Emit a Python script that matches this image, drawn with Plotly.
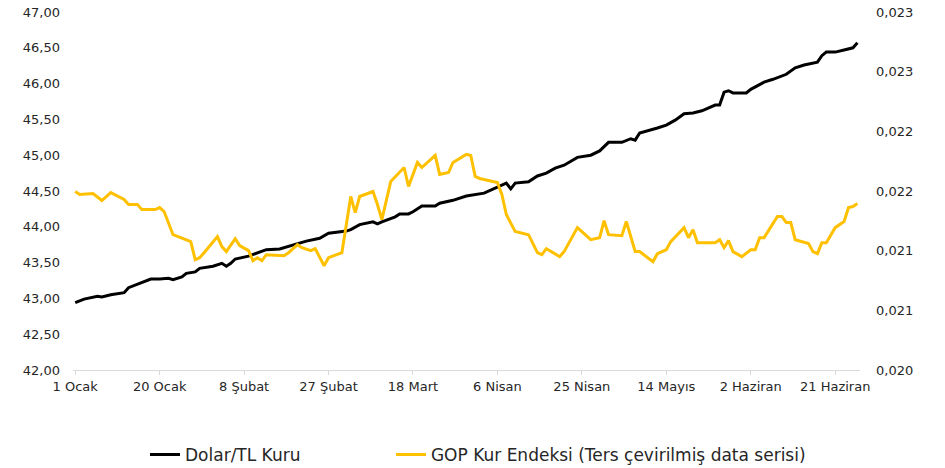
import plotly.graph_objects as go

# ---- Data ----
usd_dates = [
    "2025-01-01", "2025-01-03", "2025-01-06", "2025-01-07", "2025-01-09", "2025-01-12",
    "2025-01-13", "2025-01-16", "2025-01-18", "2025-01-20", "2025-01-22", "2025-01-23",
    "2025-01-25", "2025-01-26", "2025-01-28", "2025-01-29", "2025-02-01", "2025-02-03",
    "2025-02-04", "2025-02-05", "2025-02-06", "2025-02-09", "2025-02-11", "2025-02-13",
    "2025-02-16", "2025-02-19", "2025-02-22", "2025-02-25", "2025-02-27", "2025-03-03",
    "2025-03-04", "2025-03-06", "2025-03-08", "2025-03-09", "2025-03-10", "2025-03-11",
    "2025-03-14", "2025-03-15", "2025-03-17", "2025-03-18", "2025-03-20", "2025-03-23",
    "2025-03-24", "2025-03-27", "2025-03-30", "2025-03-31", "2025-04-02", "2025-04-03",
    "2025-04-08", "2025-04-09", "2025-04-10", "2025-04-13", "2025-04-15", "2025-04-17",
    "2025-04-19", "2025-04-21", "2025-04-24", "2025-04-27", "2025-04-29", "2025-05-01",
    "2025-05-04", "2025-05-06", "2025-05-07", "2025-05-08", "2025-05-12", "2025-05-14",
    "2025-05-16", "2025-05-18", "2025-05-20", "2025-05-22", "2025-05-25", "2025-05-26",
    "2025-05-27", "2025-05-28", "2025-05-29", "2025-06-01", "2025-06-02", "2025-06-05",
    "2025-06-07", "2025-06-10", "2025-06-12", "2025-06-14", "2025-06-17", "2025-06-18",
    "2025-06-19", "2025-06-21", "2025-06-23", "2025-06-25", "2025-06-26",
]
usd_values = [
    42.94, 42.99, 43.03, 43.02, 43.05, 43.08,
    43.15, 43.22, 43.27, 43.27, 43.28, 43.26,
    43.30, 43.35, 43.37, 43.42, 43.45, 43.49,
    43.45, 43.49, 43.55, 43.59, 43.63, 43.68,
    43.69, 43.75, 43.80, 43.84, 43.91, 43.94,
    43.96, 44.03, 44.05, 44.07, 44.04, 44.07,
    44.14, 44.18, 44.18, 44.21, 44.29, 44.29,
    44.33, 44.37, 44.43, 44.44, 44.46, 44.47,
    44.61, 44.53, 44.61, 44.63, 44.71, 44.75,
    44.82, 44.86, 44.97, 45.00, 45.06, 45.18,
    45.18, 45.23, 45.21, 45.31, 45.38, 45.42,
    45.49, 45.58, 45.59, 45.62, 45.70, 45.70,
    45.88, 45.90, 45.87, 45.87, 45.92, 46.02,
    46.06, 46.13, 46.22, 46.26, 46.30, 46.39,
    46.44, 46.44, 46.47, 46.50, 46.57,
]

gop_dates = [
    "2025-01-01", "2025-01-02", "2025-01-05", "2025-01-07", "2025-01-09", "2025-01-12",
    "2025-01-13", "2025-01-15", "2025-01-16", "2025-01-19", "2025-01-20", "2025-01-21",
    "2025-01-23", "2025-01-27", "2025-01-28", "2025-01-29", "2025-01-30", "2025-02-02",
    "2025-02-03", "2025-02-04", "2025-02-06", "2025-02-07", "2025-02-09", "2025-02-10",
    "2025-02-11", "2025-02-12", "2025-02-13", "2025-02-17", "2025-02-18", "2025-02-20",
    "2025-02-21", "2025-02-23", "2025-02-24", "2025-02-26", "2025-02-27", "2025-03-02",
    "2025-03-04", "2025-03-05", "2025-03-06", "2025-03-09", "2025-03-10", "2025-03-11",
    "2025-03-13", "2025-03-16", "2025-03-17", "2025-03-19", "2025-03-20", "2025-03-23",
    "2025-03-24", "2025-03-26", "2025-03-27", "2025-03-30", "2025-03-31", "2025-04-01",
    "2025-04-02", "2025-04-06", "2025-04-07", "2025-04-08", "2025-04-10", "2025-04-13",
    "2025-04-15", "2025-04-16", "2025-04-17", "2025-04-20", "2025-04-21", "2025-04-24",
    "2025-04-27", "2025-04-29", "2025-04-30", "2025-05-01", "2025-05-04", "2025-05-05",
    "2025-05-07", "2025-05-08", "2025-05-11", "2025-05-12", "2025-05-14", "2025-05-15",
    "2025-05-18", "2025-05-19", "2025-05-20", "2025-05-21", "2025-05-25", "2025-05-26",
    "2025-05-27", "2025-05-28", "2025-05-29", "2025-05-31", "2025-06-02", "2025-06-03",
    "2025-06-04", "2025-06-05", "2025-06-08", "2025-06-09", "2025-06-10", "2025-06-11",
    "2025-06-12", "2025-06-15", "2025-06-16", "2025-06-17", "2025-06-18", "2025-06-19",
    "2025-06-21", "2025-06-23", "2025-06-24", "2025-06-25", "2025-06-26",
]
gop_values = [
    0.021496, 0.021471, 0.021479, 0.021420, 0.021487, 0.021429,
    0.021387, 0.021387, 0.021344, 0.021344, 0.021361, 0.021328,
    0.021134, 0.021076, 0.020924, 0.020941, 0.020983, 0.021118,
    0.021034, 0.020992, 0.021101, 0.021042, 0.021000, 0.020916,
    0.020941, 0.020916, 0.020966, 0.020958, 0.020983, 0.021050,
    0.021025, 0.021000, 0.021017, 0.020874, 0.020941, 0.020983,
    0.021454, 0.021319, 0.021454, 0.021496, 0.021387, 0.021260,
    0.021580, 0.021697, 0.021538, 0.021739, 0.021697, 0.021798,
    0.021639, 0.021655, 0.021739, 0.021807, 0.021798, 0.021622,
    0.021605, 0.021571, 0.021471, 0.021303, 0.021160, 0.021134,
    0.020983, 0.020966, 0.021017, 0.020950, 0.020992, 0.021193,
    0.021092, 0.021109, 0.021252, 0.021134, 0.021126, 0.021244,
    0.020992, 0.020992, 0.020908, 0.020975, 0.021008, 0.021076,
    0.021193, 0.021109, 0.021176, 0.021067, 0.021067, 0.021092,
    0.021025, 0.021084, 0.020992, 0.020950, 0.021008, 0.021008,
    0.021109, 0.021109, 0.021286, 0.021286, 0.021235, 0.021235,
    0.021092, 0.021059, 0.020992, 0.020975, 0.021067, 0.021067,
    0.021193, 0.021244, 0.021361, 0.021370, 0.021395,
]

x_tick_dates = ["2025-01-01", "2025-01-20", "2025-02-08", "2025-02-27", "2025-03-18",
                "2025-04-06", "2025-04-25", "2025-05-14", "2025-06-02", "2025-06-21"]
x_tick_labels = ["1 Ocak", "20 Ocak", "8 Şubat", "27 Şubat", "18 Mart",
                 "6 Nisan", "25 Nisan", "14 Mayıs", "2 Haziran", "21 Haziran"]

left_ticks = [42.0, 42.5, 43.0, 43.5, 44.0, 44.5, 45.0, 45.5, 46.0, 46.5, 47.0]
left_labels = ["42,00", "42,50", "43,00", "43,50", "44,00", "44,50",
               "45,00", "45,50", "46,00", "46,50", "47,00"]
right_ticks = [0.0200, 0.0205, 0.0210, 0.0215, 0.0220, 0.0225, 0.0230]
right_labels = ["0,020", "0,021", "0,021", "0,022", "0,022", "0,023", "0,023"]

FONT = "DejaVu Sans"
TXT = "#262626"

fig = go.Figure()
fig.add_trace(go.Scatter(
    x=usd_dates, y=usd_values, name="Dolar/TL Kuru", mode="lines",
    line=dict(color="#000000", width=3), yaxis="y", legend="legend",
))
fig.add_trace(go.Scatter(
    x=gop_dates, y=gop_values, name="GOP Kur Endeksi (Ters çevirilmiş data serisi)",
    mode="lines", line=dict(color="#FFC000", width=3), yaxis="y2", legend="legend2",
))

legend_common = dict(
    orientation="h", y=-0.237, yanchor="middle",
    font=dict(family=FONT, size=17, color=TXT),
    bgcolor="rgba(0,0,0,0)",
)

fig.update_layout(
    width=945, height=468,
    margin=dict(l=73, r=85, t=12, b=98, autoexpand=False),
    paper_bgcolor="white", plot_bgcolor="white",
    font=dict(family=FONT, size=13, color=TXT),
    showlegend=True,
    legend=dict(x=0.0915, xanchor="left", **legend_common),
    legend2=dict(x=0.404, xanchor="left", **legend_common),
    xaxis=dict(
        type="date",
        range=["2024-12-31 12:00", "2025-06-26 14:00"],
        tickmode="array", tickvals=x_tick_dates, ticktext=x_tick_labels,
        showgrid=False, zeroline=False,
        showline=True, linecolor="#d9d9d9", linewidth=1,
        ticks="outside", ticklen=4, tickcolor="#d9d9d9",
        tickfont=dict(family=FONT, size=13, color=TXT),
    ),
    yaxis=dict(
        range=[42, 47], tickmode="array", tickvals=left_ticks, ticktext=left_labels,
        showgrid=False, zeroline=False, showline=False,
        tickfont=dict(family=FONT, size=13, color=TXT),
        ticklabelstandoff=12,
    ),
    yaxis2=dict(
        range=[0.020, 0.023], overlaying="y", side="right",
        tickmode="array", tickvals=right_ticks, ticktext=right_labels,
        showgrid=False, zeroline=False, showline=False,
        tickfont=dict(family=FONT, size=13, color=TXT),
        ticklabelstandoff=15,
    ),
)

fig.write_html(
    "out.html",
    config={"displayModeBar": False},
    post_script="document.body.style.margin='0';document.body.style.overflow='hidden';",
)
